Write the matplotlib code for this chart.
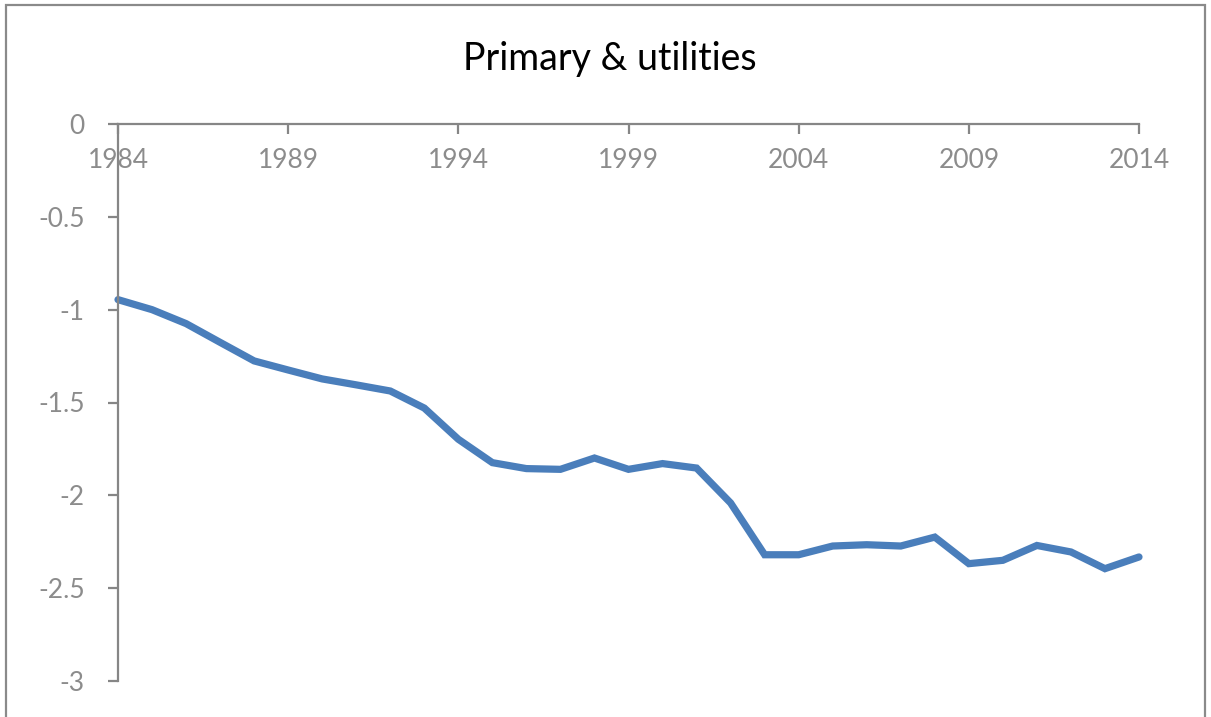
import matplotlib
matplotlib.use("Agg")
import matplotlib.pyplot as plt
from matplotlib.patches import Rectangle

plt.rcParams['font.family'] = ['Lato', 'DejaVu Sans']

# 数据
years = list(range(1984, 2015))
values = [-0.946, -1.00, -1.075, -1.176, -1.276, -1.325, -1.373, -1.405,
          -1.438, -1.530, -1.698, -1.824, -1.856, -1.860, -1.799, -1.860,
          -1.829, -1.853, -2.041, -2.320, -2.320, -2.273, -2.266, -2.273,
          -2.225, -2.368, -2.350, -2.270, -2.305, -2.395, -2.332]
x_ticks = [1984, 1989, 1994, 1999, 2004, 2009, 2014]
y_ticks = [0, -0.5, -1, -1.5, -2, -2.5, -3]
y_tick_labels = ["0", "-0.5", "-1", "-1.5", "-2", "-2.5", "-3"]
title = "Primary & utilities"

W, H = 1211, 717
fig = plt.figure(figsize=(W / 100, H / 100), dpi=100)
ax = fig.add_axes([118 / W, 1 - 681 / H, (1139 - 118) / W, (681 - 124) / H])

axis_color = "#868686"
label_color = "#8c8c8c"

ax.plot(years, values, color="#4a7ebb", lw=5.2, solid_capstyle="round",
        solid_joinstyle="miter", clip_on=False)

ax.set_xlim(1984, 2014)
ax.set_ylim(-3, 0)

# 坐标轴设置
for s in ["top", "right"]:
    ax.spines[s].set_visible(False)
ax.spines["bottom"].set_position(("data", 0))
for s in ["bottom", "left"]:
    ax.spines[s].set_color(axis_color)
    ax.spines[s].set_linewidth(1.6)

ax.set_xticks(x_ticks)
ax.set_xticklabels([str(y) for y in x_ticks])
ax.set_yticks(y_ticks)
ax.set_yticklabels(y_tick_labels)
ax.tick_params(axis="x", direction="out", length=7, width=1.6,
               color=axis_color, labelcolor=label_color, labelsize=19, pad=10)
ax.tick_params(axis="y", direction="out", length=7, width=1.6,
               color=axis_color, labelcolor=label_color, labelsize=19, pad=17)

fig.text(610 / W, 1 - 59 / H, title, ha="center", va="center",
         fontsize=27, color="#000000")

# 外框
fig.patches.append(Rectangle((6 / W, -0.1), (1205 - 6) / W, 1.1 - 5 / H,
                             transform=fig.transFigure, fill=False,
                             ec="#8a8a8a", lw=1.6))

fig.savefig("out.png", dpi=100)
